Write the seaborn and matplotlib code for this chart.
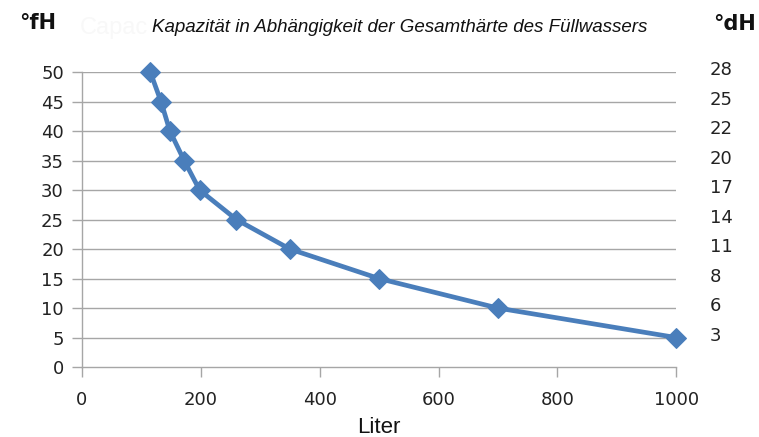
import matplotlib
matplotlib.use("Agg")
import matplotlib.pyplot as plt
import matplotlib.transforms as mtransforms
import seaborn as sns
import pandas as pd

liter = [115, 133, 148, 172, 198, 260, 350, 500, 700, 1000]
fh = [50, 45, 40, 35, 30, 25, 20, 15, 10, 5]
dh_positions = [50, 45, 40, 35, 30, 25, 20, 15, 10, 5]
dh_labels = ["28", "25", "22", "20", "17", "14", "11", "8", "6", "3"]
x_ticks = [0, 200, 400, 600, 800, 1000]
y_ticks = [0, 5, 10, 15, 20, 25, 30, 35, 40, 45, 50]

sns.set_style("white")
narrow = ["Liberation Sans Narrow", "DejaVu Sans"]
arial = ["Liberation Sans", "DejaVu Sans"]

df = pd.DataFrame({"Liter": liter, "fH": fh})

fig = plt.figure(figsize=(7.59, 4.37), dpi=100)
ax = fig.add_axes([0.108, 0.160, 0.783, 0.675])

for y in y_ticks[1:]:
    ax.axhline(y, color="#a6a6a6", lw=1.0, zorder=1)

sns.lineplot(data=df, x="Liter", y="fH", ax=ax, color="#4a7ebb", lw=3.4,
             marker="D", markersize=10, markeredgecolor="#4a7ebb",
             zorder=3, clip_on=False)

ax.set_xlim(0, 1000)
ax.set_ylim(0, 50)
ax.set_xticks(x_ticks)
ax.set_yticks(y_ticks)
ax.set_xticklabels([str(v) for v in x_ticks], family=narrow, fontsize=13)
ax.set_yticklabels([str(v) for v in y_ticks], family=narrow, fontsize=13)
ax.tick_params(axis="x", length=7, width=1, color="#a6a6a6", pad=10, labelcolor="#222222")
ax.tick_params(axis="y", length=7, width=1, color="#a6a6a6", pad=6, labelcolor="#222222")
ax.tick_params(bottom=True, left=True)
for s in ["top", "right"]:
    ax.spines[s].set_visible(False)
for s in ["left", "bottom"]:
    ax.spines[s].set_color("#a6a6a6")
    ax.spines[s].set_linewidth(1.0)
ax.set_xlabel("Liter", family=arial, fontsize=16, labelpad=6, color="#111111")
ax.set_ylabel("")

ax2 = ax.twinx()
ax2.set_ylim(0, 50)
ax2.set_yticks(dh_positions)
ax2.set_yticklabels(dh_labels, family=narrow, fontsize=13, color="#222222")
ax2.tick_params(axis="y", length=0, pad=24)
offset = mtransforms.ScaledTranslation(0, 4 / 100, fig.dpi_scale_trans)
for lbl in ax2.get_yticklabels():
    lbl.set_transform(lbl.get_transform() + offset)
for s in ax2.spines.values():
    s.set_visible(False)
ax2.grid(False)

fig.text(0.105, 0.935, "Capac", fontsize=17, color="#f8f8f8", family=arial,
         ha="left", va="center", zorder=0)
fig.text(0.527, 0.937, "Kapazität in Abhängigkeit der Gesamthärte des Füllwassers",
         fontsize=13.5, style="italic", family=arial, ha="center", va="center", color="#111111")
fig.text(0.050, 0.948, "°fH", fontsize=15, family=narrow, ha="center", va="center",
         color="#111111", weight="bold")
fig.text(0.968, 0.945, "°dH", fontsize=15, family=narrow, ha="center", va="center",
         color="#111111", weight="bold")

fig.savefig("out.png", dpi=100)
